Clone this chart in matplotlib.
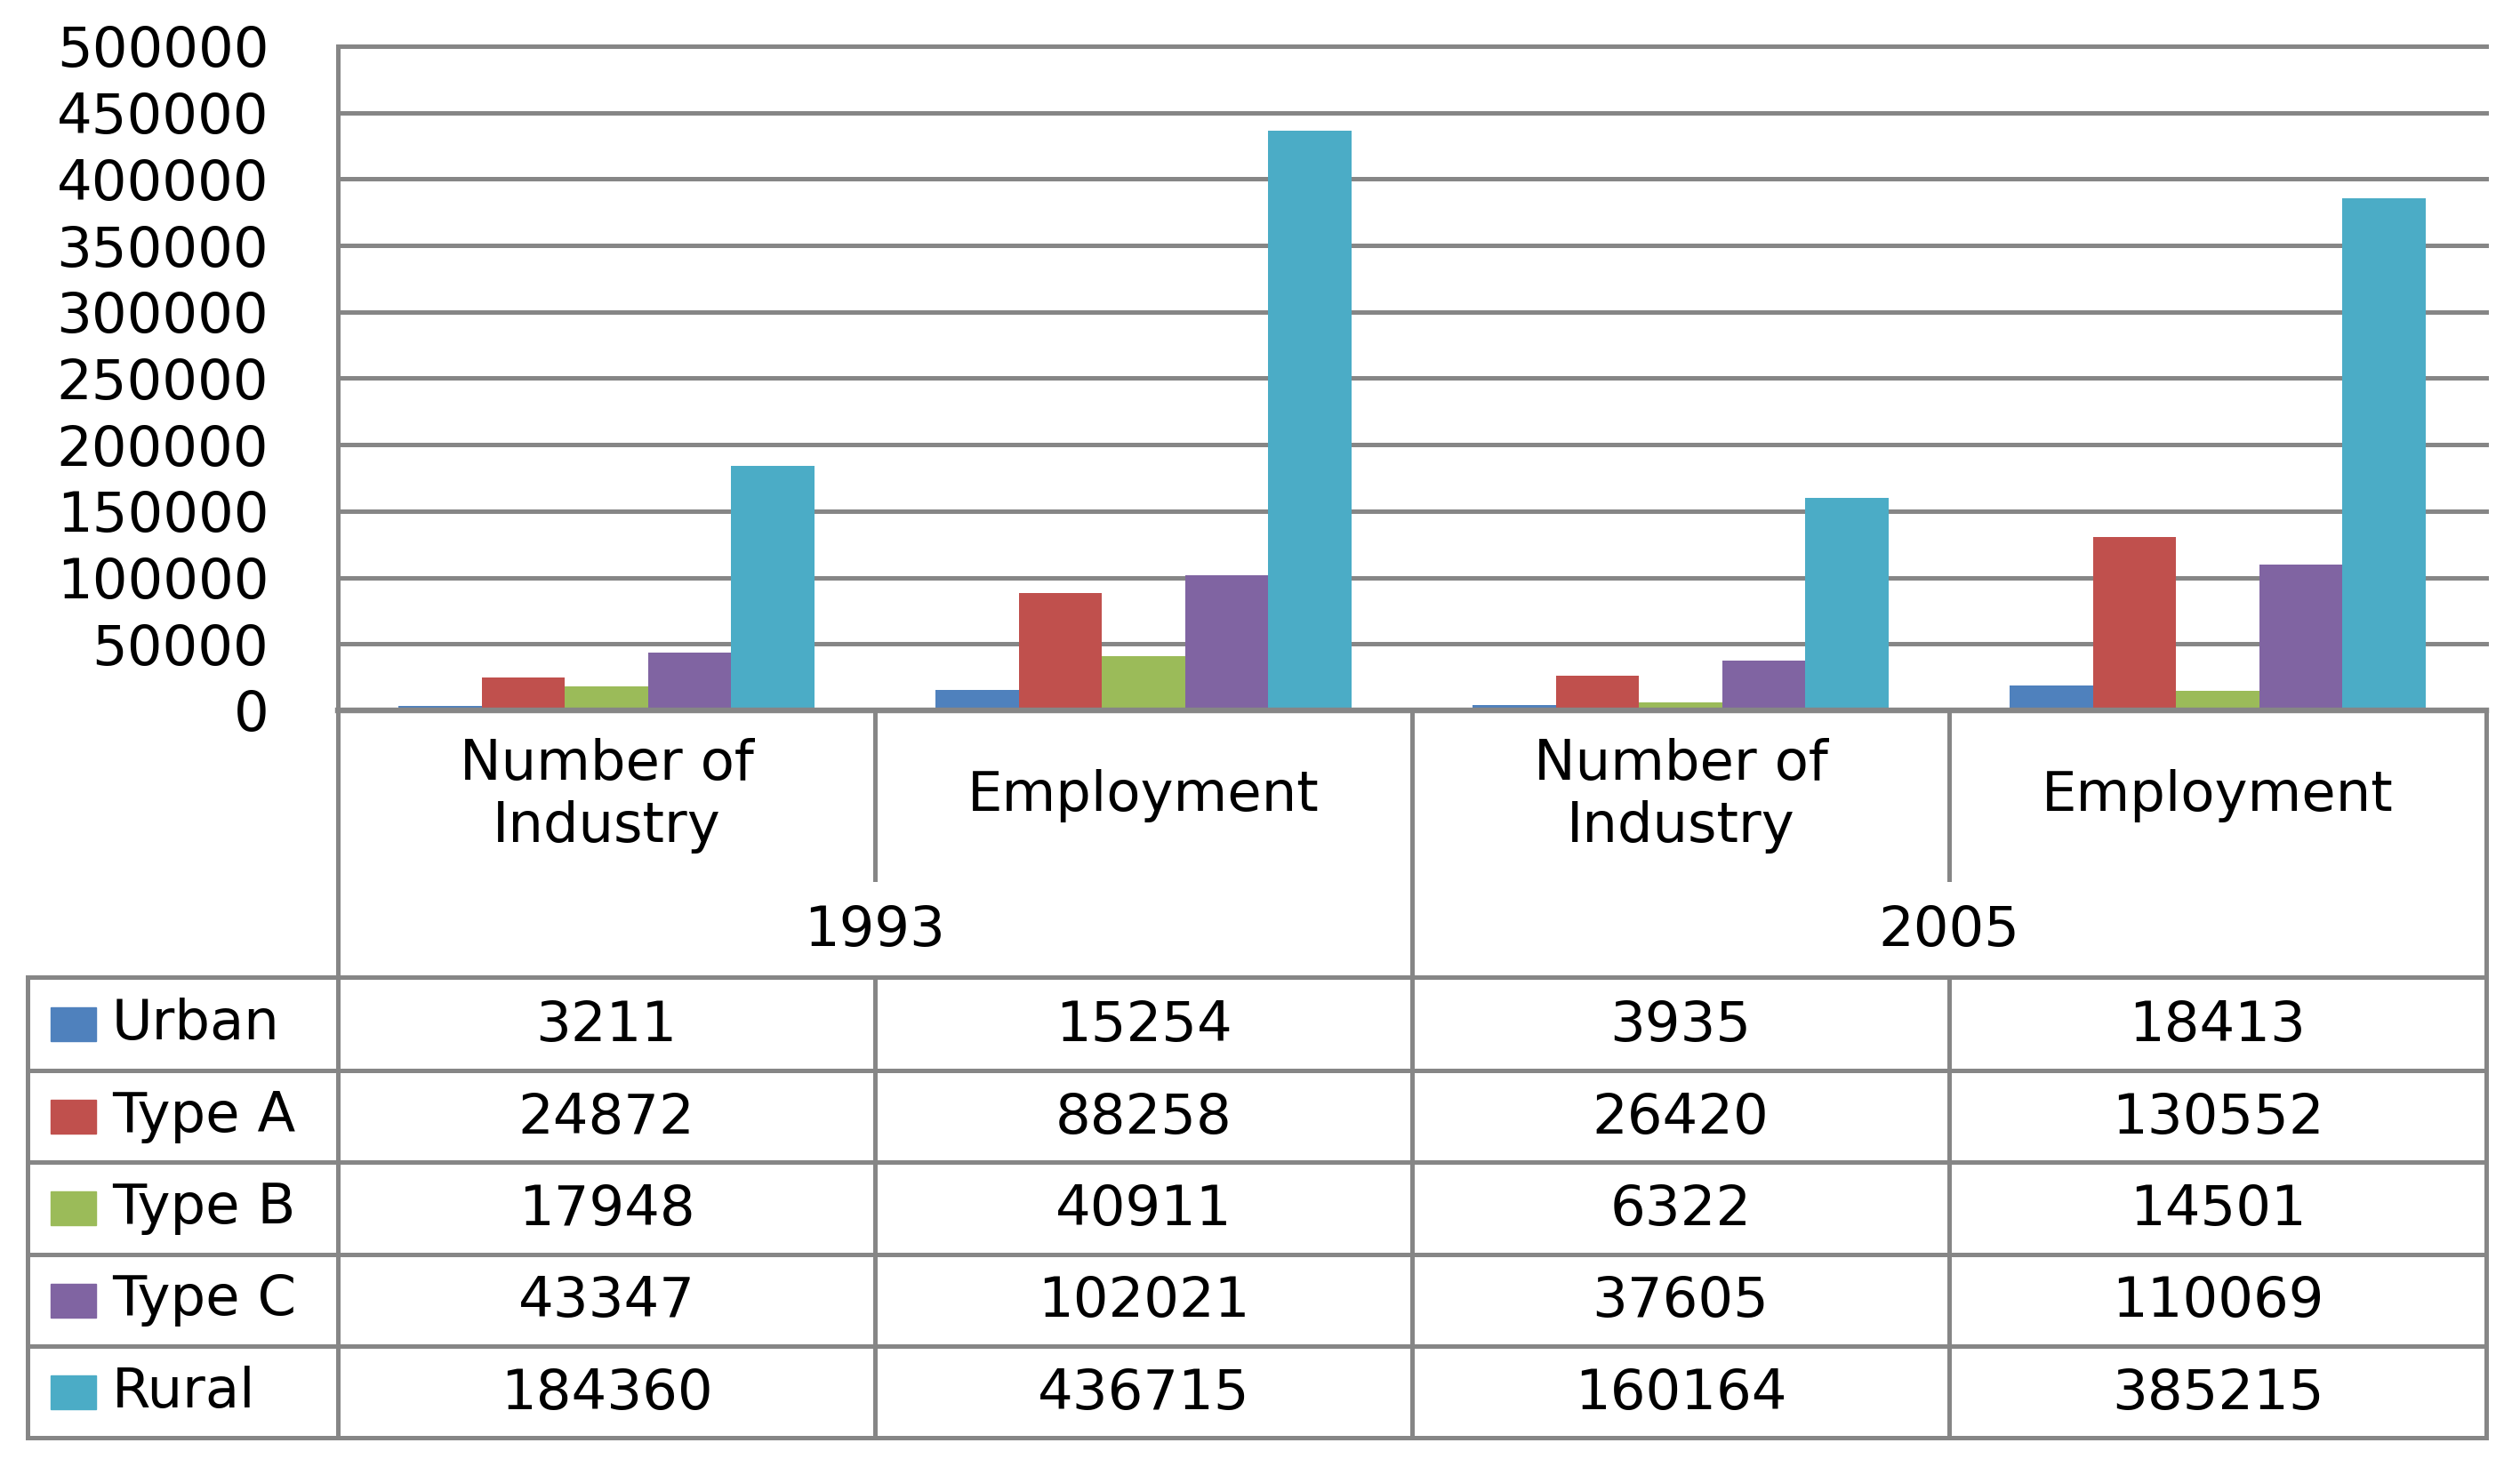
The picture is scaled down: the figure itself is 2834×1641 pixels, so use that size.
import matplotlib
matplotlib.use('Agg')
import matplotlib.pyplot as plt
import numpy as np
from matplotlib.patches import Rectangle

# data
years = ['1993', '2005']
measures = ['Number of\nIndustry', 'Employment', 'Number of\nIndustry', 'Employment']
series = ['Urban', 'Type A', 'Type B', 'Type C', 'Rural']
urban = [3211, 15254, 3935, 18413]
type_a = [24872, 88258, 26420, 130552]
type_b = [17948, 40911, 6322, 14501]
type_c = [43347, 102021, 37605, 110069]
rural = [184360, 436715, 160164, 385215]
values = [urban, type_a, type_b, type_c, rural]
colors = ['#4F81BD', '#C0504D', '#9BBB59', '#8064A2', '#4BACC6']
yticks = np.arange(0, 500001, 50000)

W, H = 2834, 1641
plt.rcParams['font.family'] = ['DejaVu Sans']
fs = 45
gray = '#868686'
lw = 3.6

fig = plt.figure(figsize=(W / 100, H / 100), dpi=100)

# pixel layout of the plot area and table
x0, x1 = 380, 2796      # plot area left/right
y_top, y_base = 52, 799  # 500000 line and zero line
row_lines = [1099, 1204, 1307, 1411, 1514, 1617]
x_tab = 31

# overlay in pixel coords for the data table
ov = fig.add_axes([0, 0, 1, 1])
ov.set_xlim(0, W)
ov.set_ylim(H, 0)
ov.axis('off')

ax = fig.add_axes([x0 / W, 1 - y_base / H, (x1 - x0) / W, (y_base - y_top) / H])
ax.patch.set_alpha(0)

n = len(series)
bw = 0.155
x = np.arange(len(measures))
for i, (name, vals) in enumerate(zip(series, values)):
    ax.bar(x + (i - (n - 1) / 2) * bw, vals, width=bw, color=colors[i], zorder=3)

ax.set_xlim(-0.5, len(measures) - 0.5)
ax.set_ylim(0, 500000)
ax.set_yticks(yticks)
ax.set_yticklabels([str(v) for v in yticks])
ax.set_xticks([])
ax.tick_params(axis='y', length=0, pad=56, labelsize=fs)
ax.yaxis.grid(True, color=gray, linewidth=lw)
for gl in ax.get_ygridlines():
    gl.set_clip_on(False)
ax.set_axisbelow(True)
for s in ['top', 'right']:
    ax.spines[s].set_visible(False)
ax.spines['left'].set_color(gray)
ax.spines['left'].set_linewidth(lw)
ax.spines['bottom'].set_color(gray)
ax.spines['bottom'].set_linewidth(4.6)
ax.spines['bottom'].set_zorder(4)

# table grid
colw = (x1 - x0) / len(measures)
col_edges = [x0 + k * colw for k in range(len(measures) + 1)]
lk = dict(color=gray, linewidth=lw, solid_capstyle='projecting')
for y in row_lines:
    ov.plot([x_tab, x1], [y, y], **lk)
ov.plot([x_tab, x_tab], [row_lines[0], row_lines[-1]], **lk)
ov.plot([x0, x0], [y_base, row_lines[-1]], **lk)
ov.plot([x1, x1], [y_base, row_lines[-1]], **lk)
mid = col_edges[2]
ov.plot([mid, mid], [y_base, row_lines[-1]], **lk)
for k in (1, 3):
    ov.plot([col_edges[k], col_edges[k]], [y_base, 989], **lk)
    ov.plot([col_edges[k], col_edges[k]], [row_lines[0], row_lines[-1]], **lk)

# category and year labels
for k, m in enumerate(measures):
    cx = (col_edges[k] + col_edges[k + 1]) / 2
    ov.text(cx, 895, m, ha='center', va='center', fontsize=fs, linespacing=1.2)
for j, yr in enumerate(years):
    cx = (col_edges[2 * j] + col_edges[2 * j + 2]) / 2
    ov.text(cx, 1047, yr, ha='center', va='center', fontsize=fs)

# data rows with legend keys
for i, (name, vals) in enumerate(zip(series, values)):
    cy = (row_lines[i] + row_lines[i + 1]) / 2
    ov.add_patch(Rectangle((57, cy - 19), 51, 38, color=colors[i]))
    ov.text(126, cy, name, ha='left', va='center', fontsize=fs)
    for k, v in enumerate(vals):
        cx = (col_edges[k] + col_edges[k + 1]) / 2
        ov.text(cx, cy + 2, str(v), ha='center', va='center', fontsize=fs)

fig.savefig('out.png', dpi=100, facecolor='white')
